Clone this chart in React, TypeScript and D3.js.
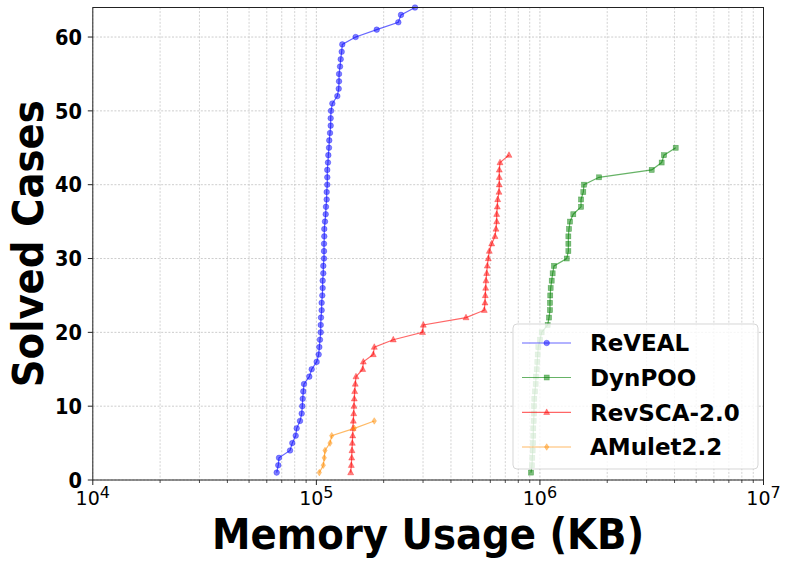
import React from "react";
import * as d3 from "d3";

const W = 793;
const H = 566;

// Memory usage (KB) of each solved case, sorted; solved-case count is the index + 1
const revealMem = [
  66450, 67550, 68050, 76240, 78050, 80840, 81660, 84490, 85980, 86520,
  86880, 87400, 88050, 92990, 95300, 100300, 102400, 103100, 103800, 104600,
  104600, 104900, 105600, 105600, 106300, 106700, 106700, 107400, 107400, 108200,
  108200, 108200, 108500, 108500, 109300, 110100, 110400, 111200, 111200, 111900,
  111900, 111900, 112700, 113100, 113900, 114200, 115100, 115900, 115900, 116300,
  117900, 124100, 125900, 126300, 126300, 127600, 128500, 129800, 130600, 149900,
  186200, 232600, 239100, 276200,
];
const dynpooMem = [
  912000, 921500, 924300, 928100, 931100, 933900, 933900, 937800, 940600, 940600,
  943600, 950400, 957200, 960300, 967200, 973200, 977200, 983300, 1000700, 1018000,
  1083000, 1098000, 1109000, 1109000, 1112000, 1117000, 1129000, 1140000, 1156000, 1318000,
  1340000, 1340000, 1340000, 1349000, 1363000, 1410000, 1527000, 1527000, 1563000, 1574000,
  1838000, 3162000, 3504000, 3588000, 4049000,
];
const revscaMem = [
  142400, 143300, 143900, 144300, 144800, 145400, 145800, 146300, 146900, 147300,
  147800, 148400, 149300, 150400, 161200, 162200, 179700, 181600, 220800, 298400,
  300900, 467000, 563700, 567900, 569600, 572000, 573700, 577900, 581400, 587500,
  593600, 608400, 629500, 636000, 640600, 640600, 644600, 647300, 656000, 658000,
  658000, 658000, 662900, 727000,
];
const amuletMem = [103100, 107400, 108500, 109300, 115100, 117100, 147800, 181600];

const seriesNames = ["ReVEAL", "DynPOO", "RevSCA-2.0", "AMulet2.2"];
const seriesColors = ["#0000ff", "#008000", "#ff0000", "#ff8c00"];
const seriesMarkers = ["circle", "square", "triangle", "diamond"];
const seriesData = [revealMem, dynpooMem, revscaMem, amuletMem];

const xDomain = [1e4, 1e7];
const yDomain = [0, 64];
const yTicks = [0, 10, 20, 30, 40, 50, 60];
const xMajorExps = [4, 5, 6, 7];

const M = { left: 92.8, right: 763.5, top: 7.5, bottom: 480 };

const condensed = "'DejaVu Sans Condensed', 'DejaVu Sans', sans-serif";
const regular = "'DejaVu Sans', sans-serif";

function Marker({ kind, x, y, color, opacity }: any) {
  if (kind === "circle")
    return <circle cx={x} cy={y} r={2.8} fill={color} fillOpacity={opacity} stroke={color} strokeOpacity={opacity} strokeWidth={0.6} />;
  if (kind === "square")
    return <rect x={x - 2.5} y={y - 2.5} width={5} height={5} fill={color} fillOpacity={opacity} stroke={color} strokeOpacity={opacity} strokeWidth={0.6} />;
  if (kind === "triangle") {
    const p = `M${x},${y - 3.4}L${x + 3},${y + 2.2}L${x - 3},${y + 2.2}Z`;
    return <path d={p} fill={color} fillOpacity={opacity} stroke={color} strokeOpacity={opacity} strokeWidth={0.6} />;
  }
  const p = `M${x},${y - 3.3}L${x + 2.2},${y}L${x},${y + 3.3}L${x - 2.2},${y}Z`;
  return <path d={p} fill={color} fillOpacity={opacity} stroke={color} strokeOpacity={opacity} strokeWidth={0.6} />;
}

export default function App() {
  const x = d3.scaleLog().domain(xDomain).range([M.left, M.right]);
  const y = d3.scaleLinear().domain(yDomain).range([M.bottom, M.top]);

  const minorTicks: number[] = [];
  for (let e = 4; e < 7; e++) for (let k = 2; k <= 9; k++) minorTicks.push(k * Math.pow(10, e));

  const line = d3
    .line<number>()
    .x((d) => x(d))
    .y((_, i) => y(i + 1));

  const legendX = 513;
  const legendY = 324;
  const legendW = 245;
  const legendH = 145;
  const rowY = [343, 377.5, 412.3, 447];

  return (
    <svg width={W} height={H} style={{ position: "absolute", left: 0, top: 0, background: "#fff" }}>
      <rect x={0} y={0} width={W} height={H} fill="#fff" />
      {/* grid */}
      <g>
        {minorTicks.map((t) => (
          <line key={"mg" + t} x1={x(t)} x2={x(t)} y1={M.top} y2={M.bottom} stroke="#c8c8c8" strokeWidth={0.8} strokeDasharray="2,1.6" />
        ))}
        {xMajorExps.map((e) => (
          <line key={"Mg" + e} x1={x(Math.pow(10, e))} x2={x(Math.pow(10, e))} y1={M.top} y2={M.bottom} stroke="#c0c0c0" strokeWidth={0.8} strokeDasharray="2,1.6" />
        ))}
        {yTicks.map((t) => (
          <line key={"yg" + t} x1={M.left} x2={M.right} y1={y(t)} y2={y(t)} stroke="#c0c0c0" strokeWidth={0.8} strokeDasharray="2,1.6" />
        ))}
      </g>
      {/* series */}
      {seriesData.map((data, si) => (
        <g key={seriesNames[si]}>
          <path d={line(data) || ""} fill="none" stroke={seriesColors[si]} strokeOpacity={0.6} strokeWidth={1.2} />
          {data.map((v, i) => (
            <Marker key={i} kind={seriesMarkers[si]} x={x(v)} y={y(i + 1)} color={seriesColors[si]} opacity={0.5} />
          ))}
        </g>
      ))}
      {/* spines */}
      <rect x={M.left} y={M.top} width={M.right - M.left} height={M.bottom - M.top} fill="none" stroke="#222" strokeWidth={1} />
      {/* y ticks */}
      {yTicks.map((t) => (
        <g key={"yt" + t}>
          <line x1={M.left - 5} x2={M.left} y1={y(t)} y2={y(t)} stroke="#222" strokeWidth={1} />
          <text x={82} y={y(t)} dy="0.36em" textAnchor="end" fontFamily={condensed} fontStretch="condensed" fontWeight="bold" fontSize={21.5}>
            {t}
          </text>
        </g>
      ))}
      {/* x ticks */}
      {minorTicks.map((t) => (
        <line key={"xm" + t} x1={x(t)} x2={x(t)} y1={M.bottom} y2={M.bottom + 3} stroke="#222" strokeWidth={0.8} />
      ))}
      {xMajorExps.map((e) => (
        <g key={"xt" + e}>
          <line x1={x(Math.pow(10, e))} x2={x(Math.pow(10, e))} y1={M.bottom} y2={M.bottom + 5} stroke="#222" strokeWidth={1} />
          <text x={x(Math.pow(10, e))} y={504.5} textAnchor="middle" fontFamily={regular} fontSize={19}>
            10
            <tspan fontSize={16} dy={-7}>{e}</tspan>
          </text>
        </g>
      ))}
      {/* axis labels */}
      <text x={(M.left + M.right) / 2} y={549} textAnchor="middle" fontFamily={condensed} fontStretch="condensed" fontWeight="bold" fontSize={43}>
        Memory Usage (KB)
      </text>
      <text
        transform={`translate(43, ${(M.top + M.bottom) / 2}) rotate(-90)`}
        textAnchor="middle"
        fontFamily={condensed}
        fontStretch="condensed"
        fontWeight="bold"
        fontSize={43}
      >
        Solved Cases
      </text>
      {/* legend */}
      <g>
        <rect x={legendX} y={legendY} width={legendW} height={legendH} rx={4} ry={4} fill="#fff" fillOpacity={0.8} stroke="#cccccc" strokeOpacity={0.8} strokeWidth={1} />
        {seriesNames.map((name, si) => (
          <g key={"lg" + name}>
            <line x1={522} x2={571} y1={rowY[si]} y2={rowY[si]} stroke={seriesColors[si]} strokeOpacity={0.6} strokeWidth={1.2} />
            <Marker kind={seriesMarkers[si]} x={546.7} y={rowY[si]} color={seriesColors[si]} opacity={0.5} />
            <text x={590} y={rowY[si]} dy="0.36em" fontFamily={regular} fontWeight="bold" fontSize={23}>
              {name}
            </text>
          </g>
        ))}
      </g>
    </svg>
  );
}
